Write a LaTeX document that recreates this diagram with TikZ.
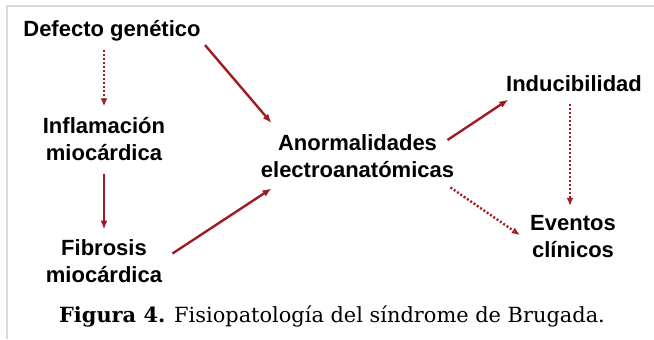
\documentclass[tikz,border=0pt]{standalone}
\usepackage{fontspec}
\setmainfont{Liberation Sans}
\newfontfamily\capfont{DejaVu Serif}
\usetikzlibrary{arrows.meta,calc}
\definecolor{darkred}{HTML}{A01B22}
\definecolor{frame}{HTML}{DADADA}
\tikzset{
  term/.style={
    align=center, inner sep=2pt,
    font=\fontsize{11}{13.5}\selectfont\bfseries
  },
  arrow/.style={-{Latex[length=4.5pt,width=3.6pt]}, line width=1.2pt, draw=darkred},
  dotarr/.style={-{Latex[open,length=4pt,width=3.4pt]}, line width=1.2pt, draw=darkred,
    dash pattern=on 1pt off 1pt},
  figcap/.style={anchor=base, font=\capfont\fontsize{10.45}{12}\selectfont}
}

\begin{document}
\begin{tikzpicture}[x=0.5pt,y=-0.5pt]
  \useasboundingbox (0,0) rectangle (654,339);
  \draw[frame, line width=0.8pt] (654,6) -- (7,6) -- (7,339);

  \node[term, anchor=base] (defecto) at (112,36) {Defecto genético};
  \node[term] (inflam) at (104,139.5) {Inflamación\\miocárdica};
  \node[term] (fibrosis) at (104,261.5) {Fibrosis\\miocárdica};
  \node[term] (anormal) at (357.5,156) {Anormalidades\\electroanatómicas};
  \node[term, anchor=base] (induc) at (574,91) {Inducibilidad};
  \node[term] (eventos) at (573,237) {Eventos\\clínicos};
  \node[figcap] (caption) at (332,322) {\textbf{Figura 4.} Fisiopatología del síndrome de Brugada.};

  \draw[dotarr, shorten <=2.5pt, shorten >=3.5pt] (inflam.north |- defecto.south) -- (inflam.north);
  \draw[arrow] (defecto.south east) -- ([xshift=7.5pt,yshift=3.5pt]anormal.north west);
  \draw[arrow, shorten <=4pt, shorten >=3pt] (inflam) -- (fibrosis);
  \draw[arrow] ([xshift=3pt,yshift=4pt]fibrosis.east) -- ([xshift=7.5pt,yshift=-3.25pt]anormal.south west);
  \draw[arrow] ([xshift=-5.5pt,yshift=8pt]anormal.east) -- ([xshift=3.25pt,yshift=-2pt]induc.south west);
  \draw[dotarr, shorten <=4pt, shorten >=2.75pt] ([xshift=-2pt]induc.south) -- ([xshift=-2pt]induc.south |- eventos.north);
  \draw[dotarr] ([xshift=-4pt,yshift=-2.75pt]anormal.south east) -- ([xshift=-3pt,yshift=1pt]eventos.west);
\end{tikzpicture}
\end{document}
